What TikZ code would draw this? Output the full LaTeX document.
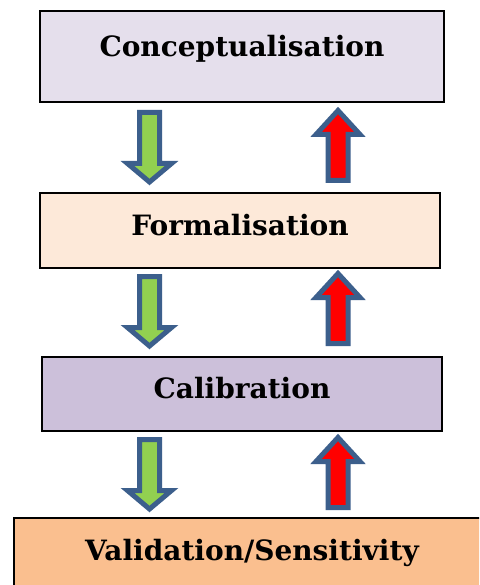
\documentclass[tikz,border=0pt]{standalone}
\usepackage{fontspec}
\setmainfont{DejaVu Serif}
\usetikzlibrary{positioning}

\definecolor{conceptfill}{HTML}{E5DFEC}
\definecolor{formalfill}{HTML}{FDE9D9}
\definecolor{calibfill}{HTML}{CCC0DA}
\definecolor{validfill}{HTML}{FABF8F}
\definecolor{arrowedge}{HTML}{3C5F8C}
\definecolor{downgreen}{HTML}{92D050}

\tikzset{
  stagebox/.style={draw=black, line width=1.5pt, inner sep=0pt,
    font=\fontsize{28}{32}\selectfont\bfseries},
  downarr/.style={draw=arrowedge, fill=downgreen, line width=5pt, line join=miter},
  uparr/.style={draw=arrowedge, fill=red, line width=5pt, line join=miter}
}

\begin{document}
\begin{tikzpicture}[x=1pt, y=-1pt]
    \clip (0,0) rectangle (479,585);
    \fill[white] (0,0) rectangle (479,585);

    % stages
    \node[stagebox, fill=conceptfill, minimum width=404pt, minimum height=91pt,
      text height=22pt, text depth=22pt] (concept) at (242,56.5) {Conceptualisation};
    \node[stagebox, fill=formalfill, minimum width=400pt, minimum height=75pt,
      text height=22pt, text depth=13pt] (formal) at (240,230.5) {Formalisation};
    \node[stagebox, fill=calibfill, minimum width=400pt, minimum height=74pt,
      text height=22pt, text depth=13pt] (calib) at (242,394) {Calibration};
    \node[stagebox, fill=validfill, minimum width=476pt, minimum height=84pt,
      text height=22pt, text depth=22pt] (valid) at (252,560) {Validation/Sensitivity};

    % green arrows going down
    \foreach \t in {110,274,437} {
      \draw[downarr] (139.5,\t+2.5) -- (159.5,\t+2.5) -- (159.5,\t+53.5)
        -- (171.5,\t+53.5) -- (149.5,\t+72) -- (127.5,\t+53.5)
        -- (139.5,\t+53.5) -- cycle;
    }
    % red arrows going up
    \foreach \p in {107,270,434} {
      \draw[uparr] (328,\p+73.5) -- (348,\p+73.5) -- (348,\p+27.5)
        -- (360,\p+27.5) -- (338,\p+3.5) -- (316,\p+27.5)
        -- (328,\p+27.5) -- cycle;
    }
\end{tikzpicture}
\end{document}
